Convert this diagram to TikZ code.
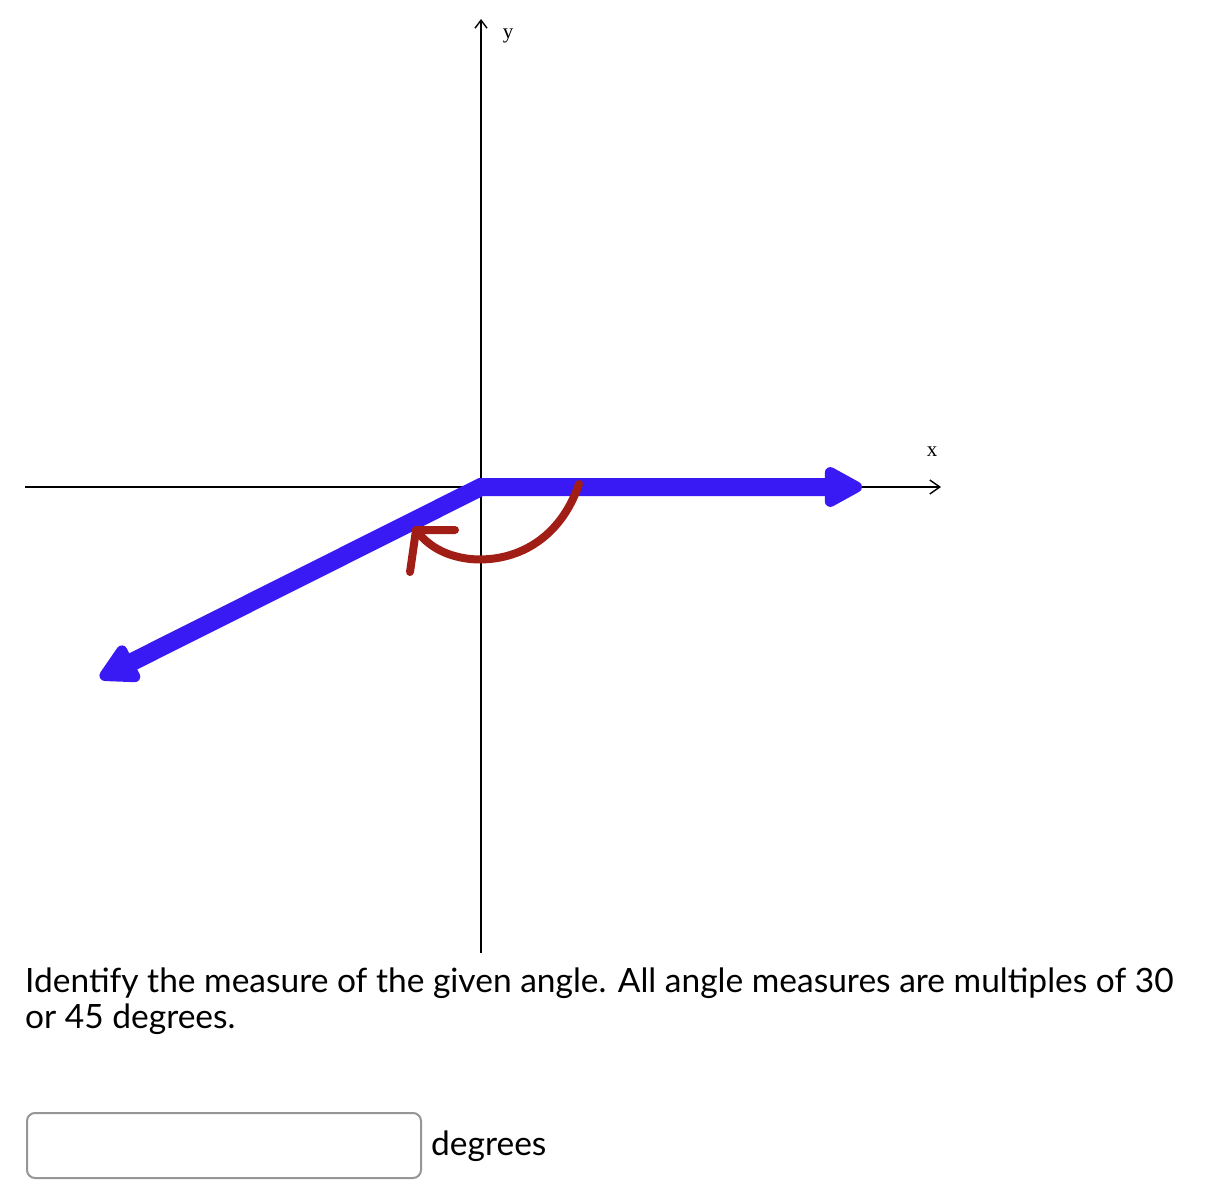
\documentclass[tikz,border=0pt]{standalone}
\usepackage{fontspec}
\setmainfont{Lato}
\newfontfamily\axisfont{Liberation Serif}
\usetikzlibrary{arrows.meta}
\definecolor{rayblue}{RGB}{58,26,244}
\definecolor{arcred}{RGB}{160,30,22}
\definecolor{boxgray}{RGB}{150,150,150}
\tikzset{
  axis/.style={line width=1.6pt, black},
  ray/.style={line width=18pt, rayblue, line join=miter,
    {Triangle[length=44pt,width=44pt,round]}-{Triangle[length=44pt,width=44pt,round]}},
  arcline/.style={line width=8pt, arcred, line cap=round, line join=round},
  axislabel/.style={font=\axisfont\fontsize{21}{21}\selectfont, inner sep=0pt},
  qtext/.style={font=\fontsize{33.5}{37}\selectfont, anchor=base west, inner sep=0pt}
}
\begin{document}
\begin{tikzpicture}[x=1pt,y=-1pt]
\useasboundingbox (0,0) rectangle (1213,1196);
% axes
\coordinate (O) at (481,487);
\coordinate (xl) at (25,487);
\coordinate (xr) at (941,487);
\coordinate (yt) at (481,19);
\coordinate (yb) at (481,953);
\draw[axis, -{Straight Barb[length=10pt,width=14pt,line width=1.4pt]}] (xl) -- (xr);
\draw[axis, -{Straight Barb[length=8pt,width=12pt,line width=1.4pt]}] (yb) -- (yt);
\node[axislabel] (xlab) at (932,452) {x};
\node[axislabel] (ylab) at (508,36) {y};
% rays
\coordinate (A) at (100,678);
\coordinate (B) at (862,487);
\draw[ray] (A) -- (O) -- (B);
% angle arc
\coordinate (s) at (579,484);
\coordinate (e) at (416,530);
\coordinate (h1) at (455,530);
\coordinate (h2) at (410,572);
\draw[arcline] (s) .. controls (560,540) and (515,563) .. (470,559) .. controls (445,556) and (428,546) .. (e);
\draw[arcline] (h1) -- (e) -- (h2);
% question text
\node[qtext] (q1) at (25,992) {Identify the measure of the given angle. All angle measures are multiples of 30};
\node[qtext] (q2) at (25,1028) {or 45 degrees.};
% answer box
\node[draw=boxgray, line width=2pt, rounded corners=8pt, minimum width=394pt, minimum height=65pt, anchor=north west, inner sep=0pt] (box) at (26,1112) {};
\node[qtext] (deg) at (431,1155) {degrees};
\end{tikzpicture}
\end{document}
